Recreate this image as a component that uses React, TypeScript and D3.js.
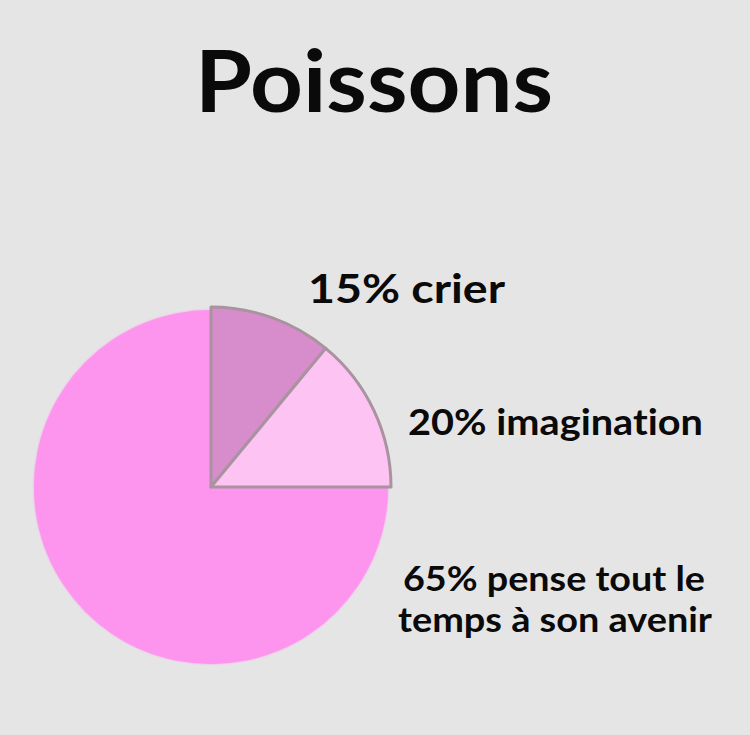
import * as d3 from "d3";
import { useEffect, useRef } from "react";

// slice shares as drawn in the picture (the printed percentages don't match the wedges)
const categories = ["crier", "imagination", "pense"];
const sliceShares = [11, 14, 75];
const sliceColors = ["#d78dcb", "#fdc3f3", "#fd95ef"];
const labelLines = [
  ["15% crier"],
  ["20% imagination"],
  ["65% pense tout le", "temps à son avenir"],
];

const App = () => {
  const svgRef = useRef<SVGSVGElement | null>(null);
  const width = 750;
  const height = 735;

  useEffect(() => {
    const svg = d3.select(svgRef.current);
    svg.selectAll("*").remove();

    svg.append("rect").attr("width", width).attr("height", height).attr("fill", "#e6e5e6");

    const defs = svg.append("defs");
    const blur = defs.append("filter").attr("id", "soft").attr("x", "-10%").attr("y", "-10%").attr("width", "120%").attr("height", "120%");
    blur.append("feGaussianBlur").attr("stdDeviation", 1.2);

    const font = "Lato, 'Open Sans', sans-serif";

    // title
    svg
      .append("text")
      .attr("x", 195)
      .attr("y", 112)
      .attr("textLength", 358)
      .attr("lengthAdjust", "spacingAndGlyphs")
      .style("font-family", font)
      .style("font-weight", 700)
      .style("font-size", "86px")
      .style("font-variant-ligatures", "none")
      .attr("fill", "#0a0a0a")
      .text("Poissons");

    const pie = d3
      .pie<number>()
      .sort(null)
      .value((d) => d);
    const arcs = pie(sliceShares);

    const g = svg.append("g").attr("transform", "translate(211,487)");

    // big slice, slightly soft edge
    const bigArc = d3.arc<d3.PieArcDatum<number>>().innerRadius(0).outerRadius(177);
    g.append("path")
      .attr("d", bigArc(arcs[2]) as string)
      .attr("fill", sliceColors[2])
      .attr("filter", "url(#soft)");
    g.append("path").attr("d", bigArc(arcs[2]) as string).attr("fill", sliceColors[2]);

    // the two small wedges with a grey rim
    const smallArc = d3.arc<d3.PieArcDatum<number>>().innerRadius(0).outerRadius(180);
    g.selectAll("path.small")
      .data(arcs.slice(0, 2))
      .join("path")
      .attr("class", "small")
      .attr("d", (d) => smallArc(d) as string)
      .attr("fill", (d, i) => sliceColors[i])
      .attr("stroke", "#a8939f")
      .attr("stroke-width", 3)
      .attr("stroke-linejoin", "round");

    // labels
    const labelPos = [
      { x: 308, y: 303, w: 197, size: 40 },
      { x: 408, y: 435, w: 295, size: 37 },
      { x: 403, y: 591, w: 302, size: 34 },
    ];
    const lineSecond = { x: 398, w: 314, dy: 41 };

    labelLines.forEach((lines, i) => {
      const p = labelPos[i];
      lines.forEach((line, j) => {
        svg
          .append("text")
          .attr("x", j === 0 ? p.x : lineSecond.x)
          .attr("y", p.y + j * lineSecond.dy)
          .attr("textLength", j === 0 ? p.w : lineSecond.w)
          .attr("lengthAdjust", "spacingAndGlyphs")
          .style("font-family", font)
          .style("font-weight", 700)
          .style("font-size", `${p.size}px`)
          .style("font-variant-ligatures", "none")
          .attr("fill", "#0a0a0a")
          .attr("data-category", categories[i])
          .text(line);
      });
    });
  }, []);

  return (
    <svg
      ref={svgRef}
      width={width}
      height={height}
      style={{ position: "absolute", left: 0, top: 0 }}
    />
  );
};

export default App;
